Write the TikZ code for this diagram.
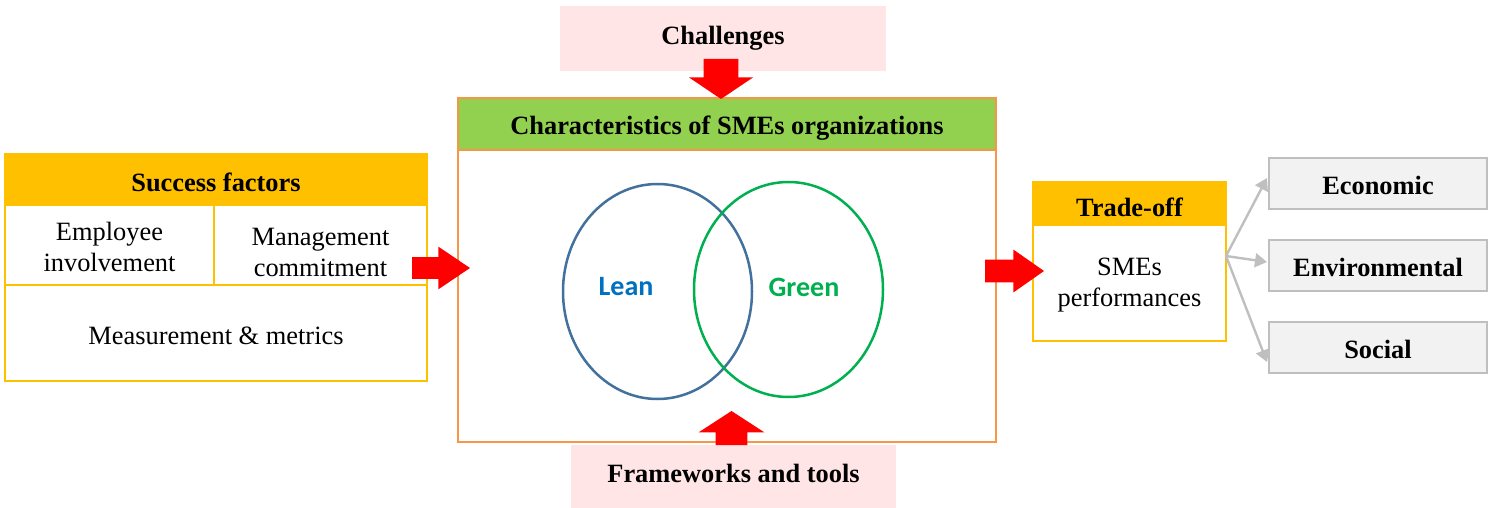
\documentclass[tikz,border=0pt]{standalone}
\usepackage{fontspec}
\setmainfont{Liberation Serif}
\newfontfamily\carlito{Carlito}
\usetikzlibrary{shapes.arrows,arrows.meta}
\definecolor{pinkbg}{HTML}{FFE5E5}
\definecolor{gold}{HTML}{FFC000}
\definecolor{lgreen}{HTML}{92D050}
\definecolor{orangeb}{HTML}{F79646}
\definecolor{greyf}{HTML}{F2F2F2}
\definecolor{greyb}{HTML}{BFBFBF}
\definecolor{leanblue}{HTML}{41719C}
\definecolor{leantext}{HTML}{0070C0}
\definecolor{greenc}{HTML}{00B050}
\newcommand{\shiftdown}[2]{\raisebox{-#1}[\height][\depth]{#2}}
\newcommand{\twolines}[2]{\begin{tabular}{@{}c@{}}#1\\#2\end{tabular}}
\begin{document}
\begin{tikzpicture}[x=0.5pt,y=-0.5pt,
  every node/.style={inner sep=0pt, outer sep=0pt, align=center,
    font=\fontsize{13.2}{15.5}\selectfont},
  boldtxt/.style={font=\fontsize{13.2}{15.5}\selectfont\bfseries},
  pinkbox/.style={fill=pinkbg, boldtxt},
  goldhead/.style={fill=gold, draw=gold, line width=1pt, boldtxt},
  goldcell/.style={fill=white, draw=gold, line width=1pt},
  greybox/.style={fill=greyf, draw=greyb, line width=1pt, boldtxt,
    minimum width=109pt, minimum height=25.5pt},
  redarrow/.style={single arrow, fill=red, draw=none, single arrow head indent=0pt},
  greyarrow/.style={draw=greyb, line width=1.2pt, -{Triangle[length=6pt,width=7pt]}},
]
\useasboundingbox (0,0) rectangle (1494,508);

% top and bottom influences
\node[pinkbox, minimum width=163pt, minimum height=32.5pt] (chal) at (723,38.5) {Challenges};
\node[pinkbox, minimum width=162.5pt, minimum height=31.5pt] (fw) at (733.5,476.5) {\shiftdown{-1.5pt}{Frameworks and tools}};

% central frame
\node[fill=white, draw=orangeb, line width=1.25pt, minimum width=269pt, minimum height=146pt] (body) at (727,296) {};
\node[fill=lgreen, draw=orangeb, line width=1.25pt, boldtxt, minimum width=269pt, minimum height=26pt] (chars) at (727,124) {\shiftdown{2pt}{Characteristics of SMEs organizations}};

% Venn
\draw[leanblue, line width=1.25pt] (657.5,291.5) ellipse [x radius=94.5, y radius=107.5];
\draw[greenc, line width=1.25pt] (788.5,289.5) ellipse [x radius=94.5, y radius=107.5];
\node[font=\carlito\bfseries\fontsize{14}{16}\selectfont, text=leantext] (lean) at (626,287) {Lean};
\node[font=\carlito\bfseries\fontsize{14}{16}\selectfont, text=greenc] (green) at (804,287) {Green};

% success factors
\node[goldhead, minimum width=211pt, minimum height=25.5pt] (sf) at (216,179.5) {\shiftdown{1.5pt}{Success factors}};
\node[goldcell, minimum width=104.5pt, minimum height=40pt] (emp) at (109.5,245) {\shiftdown{2.25pt}{\twolines{Employee}{involvement}}};
\node[goldcell, minimum width=106.5pt, minimum height=40pt] (mgmt) at (320.5,245) {\shiftdown{4.75pt}{\twolines{Management}{commitment}}};
\node[goldcell, minimum width=211pt, minimum height=48pt] (meas) at (216,333) {\shiftdown{1.5pt}{Measurement \& metrics}};

% trade-off
\node[goldhead, minimum width=96.5pt, minimum height=21.5pt] (to) at (1129.5,203.5) {\shiftdown{2pt}{Trade-off}};
\node[goldcell, minimum width=96.5pt, minimum height=58pt] (tbody) at (1129.5,283) {\shiftdown{1pt}{\twolines{SMEs}{performances}}};

% outcomes
\node[greybox] (eco) at (1378,183.5) {\shiftdown{1pt}{Economic}};
\node[greybox] (env) at (1378,265.5) {\shiftdown{1pt}{Environmental}};
\node[greybox] (soc) at (1378,347.5) {\shiftdown{1pt}{Social}};

% red block arrows
\node[redarrow, anchor=tail, inner xsep=0pt, inner ysep=5.25pt, minimum height=29pt,
  single arrow head extend=5.25pt, single arrow tip angle=68] (aL) at (412,268) {};
\node[redarrow, anchor=tail, inner xsep=0pt, inner ysep=5.5pt, minimum height=29.5pt,
  single arrow head extend=5pt, single arrow tip angle=70] (aR) at (985,271) {};
\node[redarrow, anchor=tail, shape border rotate=270, inner ysep=0pt, inner xsep=8.5pt, minimum height=20pt,
  single arrow head extend=7.25pt, single arrow tip angle=112] (aD) at (721,59) {};
\node[redarrow, anchor=tail, shape border rotate=90, inner ysep=0pt, inner xsep=7.75pt, minimum height=17pt,
  single arrow head extend=8.5pt, single arrow tip angle=114] (aU) at (731.5,445) {};

% grey connectors
\coordinate (split) at ([yshift=13.5pt]tbody.east);
\draw[greyarrow] (split) -- ([yshift=2.75pt,xshift=-1pt]eco.west);
\draw[greyarrow] (split) -- ([yshift=1.75pt,xshift=-1pt]env.west);
\draw[greyarrow] (split) -- ([yshift=-7.25pt,xshift=-1pt]soc.west);
\end{tikzpicture}
\end{document}
